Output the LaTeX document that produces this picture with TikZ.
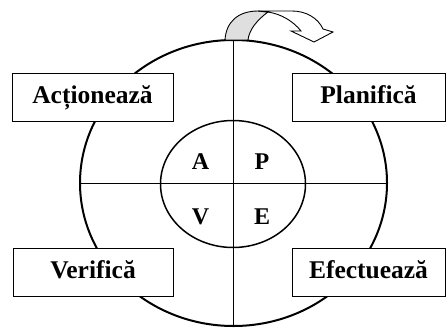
\documentclass[tikz,border=0pt]{standalone}
\usepackage{fontspec}
\setmainfont{Liberation Serif}
\usetikzlibrary{shapes.geometric}

\begin{document}
\begin{tikzpicture}[x=1pt, y=-1pt,
    ring/.style={ellipse, draw, inner sep=0pt},
    stage/.style={rectangle, draw, line width=0.9pt, fill=white,
        minimum height=48pt, font=\fontsize{25.5}{30}\selectfont\bfseries,
        text height=17pt, text depth=5pt},
    letter/.style={font=\fontsize{24}{28}\selectfont\bfseries, inner sep=0pt},
    axis/.style={line width=0.8pt}
]
    \useasboundingbox (0,0) rectangle (446,329);

    \node[ring, line width=2pt, minimum width=307pt, minimum height=286pt] (outer) at (233.5,183) {};
    \node[ring, line width=1.5pt, minimum width=145pt, minimum height=127pt] (inner) at (233,184) {};
    \draw[axis] (outer.north) -- (outer.south);
    \draw[axis] (outer.west) -- (outer.east);

    \node[letter] (a) at (200.5,162) {A};
    \node[letter] (p) at (262,162) {P};
    \node[letter] (v) at (200.5,217) {V};
    \node[letter] (e) at (262,217) {E};

    \node[stage, minimum width=161pt] (act) at (92.5,97) {Acționează};
    \node[stage, minimum width=153pt] (plan) at (368.5,97) {Planifică};
    \node[stage, minimum width=160pt] (ver) at (93,272.5) {Verifică};
    \node[stage, minimum width=153pt] (efe) at (368.5,272.5) {Efectuează};

    % Twisted arrow on top
    \filldraw[line width=0.9pt, fill=gray!25] (225,40) .. controls (226,22) and (238,11) .. (258,11)
        -- (268,12) .. controls (257,20) and (249,30) .. (248,40) -- cycle;
    \filldraw[line width=0.9pt, fill=white] (258,11) -- (292,11) .. controls (306,11) and (318,18) .. (323,29)
        -- (333,32) -- (314,42) -- (291,31) -- (301,31)
        .. controls (293,21) and (281,14) .. (268,12) -- cycle;
\end{tikzpicture}
\end{document}
